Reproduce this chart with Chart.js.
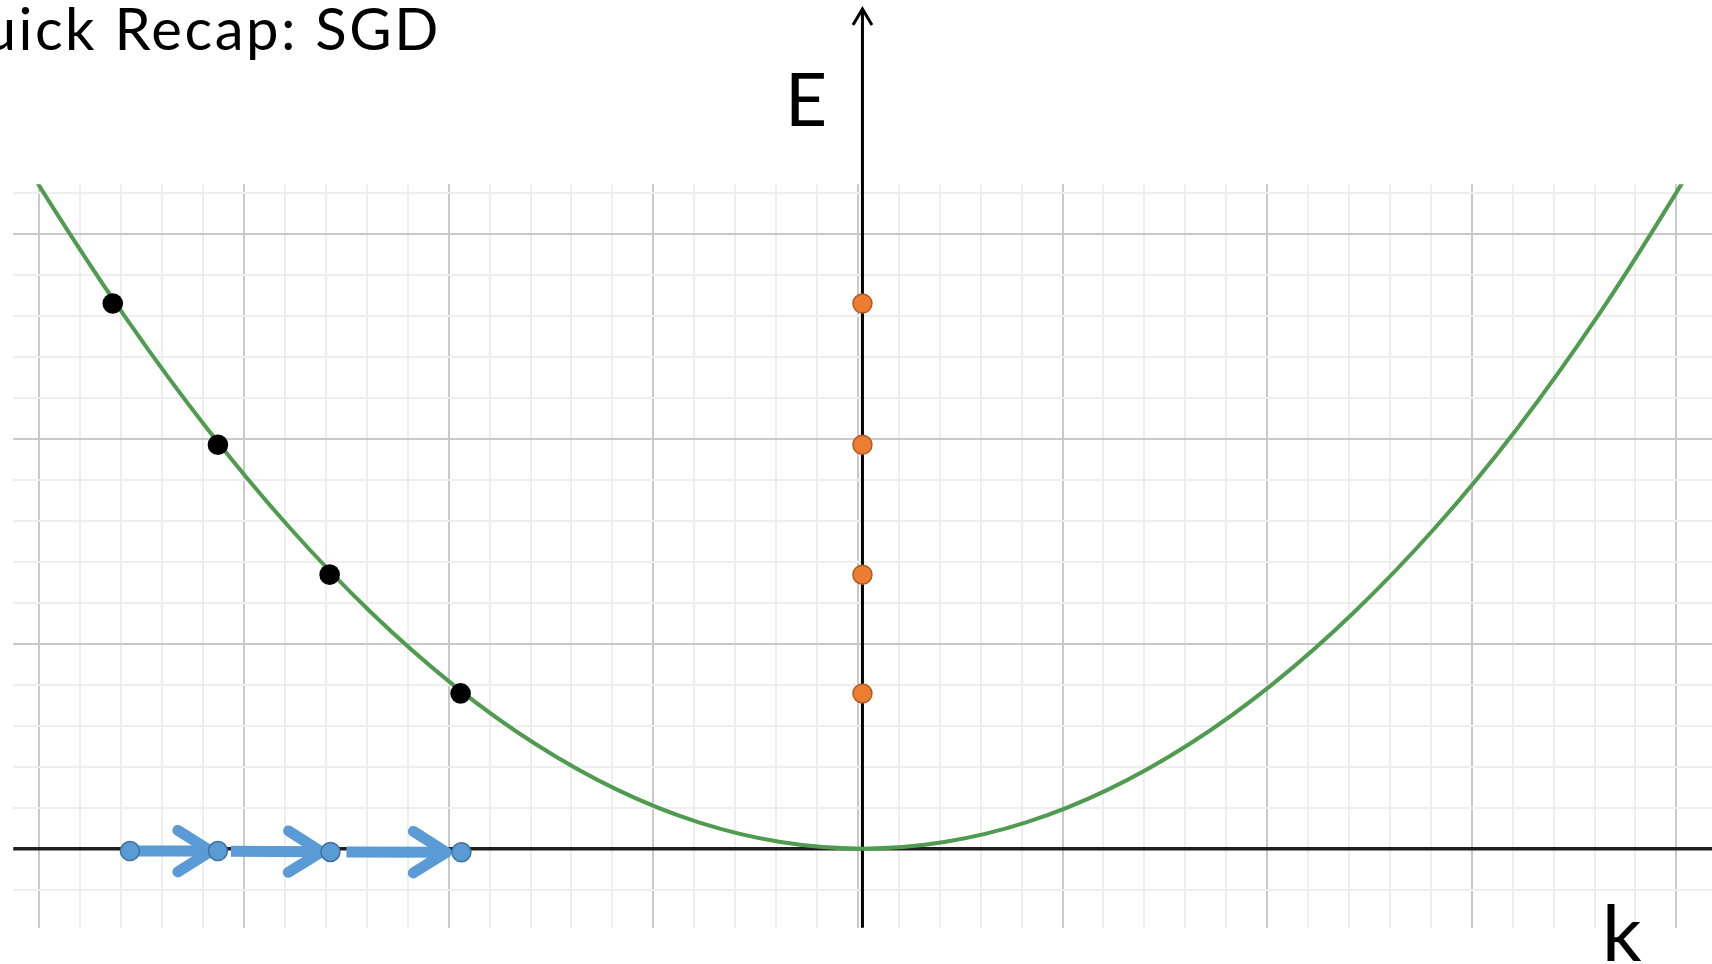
<!DOCTYPE html>
<html>
<head>
<meta charset="utf-8">
<title>Quick Recap: SGD</title>
<script src="https://cdn.jsdelivr.net/npm/chart.js@4.4.0/dist/chart.umd.min.js"></script>
<style>
  body { margin: 0; width: 1712px; height: 964px; overflow: hidden; background: #fff; position: relative; font-family: Lato, "Open Sans", sans-serif; }
  #myChart { position: absolute; left: 0; top: 0; }
  .texto { position: absolute; line-height: 1; white-space: nowrap; color: #000; }
  #titulo { right: 1271.2px; top: -1.5px; font-size: 58px; font-weight: 400; letter-spacing: 2.5px; text-align: right; }
  #labelE { left: 785px; top: 62px; font-size: 73px; }
  #labelK { left: 1602px; top: 892px; font-size: 78px; }
</style>
</head>
<body>
<canvas id="myChart" width="1712" height="964"></canvas>
<div id="titulo" class="texto">Quick Recap: SGD</div>
<div id="labelE" class="texto">E</div>
<div id="labelK" class="texto">k</div>
<script>
//Curva E(k)
const curveK = [-21, -20, -18, -16, -14, -12, -10, -8, -6, -4, -2, 0, 2, 4, 6, 8, 10, 12, 14, 16, 18, 20, 21];
const curveE = [17.64, 16.0, 12.96, 10.24, 7.84, 5.76, 4.0, 2.56, 1.44, 0.64, 0.16, 0, 0.16, 0.64, 1.44, 2.56, 4.0, 5.76, 7.84, 10.26, 13.05, 16.2, 17.9];
//Puntos negros sobre la curva
const blackK = [-18.32, -15.75, -13.02, -9.82];
const blackE = [13.31, 9.86, 6.69, 3.79];
//Puntos naranjas sobre el eje E
const orangeK = [0, 0, 0, 0];
const orangeE = [13.31, 9.86, 6.69, 3.79];
//Puntos azules sobre el eje k
const blueK = [-17.90, -15.75, -13.00, -9.80];
const blueE = [-0.06, -0.06, -0.08, -0.09];
//Lineas de la cuadricula
const gridK = [-20, -19, -18, -17, -16, -15, -14, -13, -12, -11, -10, -9, -8, -7, -6, -5, -4, -3, -2, -1, 0,
               1, 2, 3, 4, 5, 6, 7, 8, 9, 10, 11, 12, 13, 14, 15, 16, 17, 18, 19, 20];
const gridE = [-1, 0, 1, 2, 3, 4, 5, 6, 7, 8, 9, 10, 11, 12, 13, 14, 15, 16];

const toPoints = (xs, ys) => xs.map((x, i) => ({ x: x, y: ys[i] }));

//Colores de la cuadricula: cada 5 lineas una mas oscura
const gridColor = (ctx) => (ctx.tick && ctx.tick.value % 5 === 0) ? '#c9c9c9' : '#eeeeee';

//Dibujo los ejes negros y las flechas azules antes de los puntos
const axesArrows = {
    id: 'axesArrows',
    beforeDatasetsDraw(chart) {
        const { ctx, chartArea, scales: { x, y } } = chart;
        const x0 = x.getPixelForValue(0);
        const y0 = y.getPixelForValue(0);
        ctx.save();
        //eje k
        ctx.strokeStyle = '#1e1e1e';
        ctx.lineWidth = 3.5;
        ctx.beginPath();
        ctx.moveTo(chartArea.left, y0);
        ctx.lineTo(chartArea.right, y0);
        ctx.stroke();
        //eje E con punta de flecha
        ctx.strokeStyle = '#000';
        ctx.lineWidth = 3;
        ctx.beginPath();
        ctx.moveTo(x0, chartArea.bottom);
        ctx.lineTo(x0, 10);
        ctx.stroke();
        ctx.beginPath();
        ctx.moveTo(x0 - 9.5, 25);
        ctx.lineTo(x0, 9);
        ctx.lineTo(x0 + 9.5, 25);
        ctx.stroke();
        //flechas entre puntos azules
        const startGap = [0, 13, 16];
        const tipGap = [7, 9, 15];
        const L = 39, c = Math.cos(0.56), s = Math.sin(0.56);
        ctx.strokeStyle = '#5B9BD5';
        ctx.lineWidth = 11;
        for (let i = 0; i < blueK.length - 1; i++) {
            const ax = x.getPixelForValue(blueK[i]), ay = y.getPixelForValue(blueE[i]);
            const bx = x.getPixelForValue(blueK[i + 1]), by = y.getPixelForValue(blueE[i + 1]);
            const len = Math.hypot(bx - ax, by - ay);
            const dx = (bx - ax) / len, dy = (by - ay) / len;
            const sx = ax + dx * startGap[i], sy = ay + dy * startGap[i];
            const tx = bx - dx * tipGap[i], ty = by - dy * tipGap[i];
            ctx.lineCap = 'butt';
            ctx.beginPath();
            ctx.moveTo(sx, sy);
            ctx.lineTo(tx - dx * 4, ty - dy * 4);
            ctx.stroke();
            ctx.lineCap = 'round';
            ctx.lineJoin = 'round';
            ctx.beginPath();
            ctx.moveTo(tx - L * (c * dx - s * dy), ty - L * (c * dy + s * dx));
            ctx.lineTo(tx, ty);
            ctx.lineTo(tx - L * (c * dx + s * dy), ty - L * (c * dy - s * dx));
            ctx.stroke();
        }
        ctx.restore();
    }
};

const data = {
    datasets: [
        {
            label: 'negros',
            data: toPoints(blackK, blackE),
            showLine: false,
            pointRadius: 10.3,
            pointBackgroundColor: '#000',
            pointBorderWidth: 0
        },
        {
            label: 'naranjas',
            data: toPoints(orangeK, orangeE),
            showLine: false,
            pointRadius: 9.5,
            pointBackgroundColor: '#ED7D31',
            pointBorderColor: '#AE5A21',
            pointBorderWidth: 1.5
        },
        {
            label: 'azules',
            data: toPoints(blueK, blueE),
            showLine: false,
            pointRadius: 9.5,
            pointBackgroundColor: '#5B9BD5',
            pointBorderColor: '#41719C',
            pointBorderWidth: 1.5
        },
        {
            label: 'E(k)',
            data: toPoints(curveK, curveE),
            showLine: true,
            borderColor: '#4f9b4f',
            borderWidth: 4,
            pointRadius: 0,
            cubicInterpolationMode: 'monotone'
        }
    ]
};

const config = {
    type: 'scatter',
    data,
    options: {
        responsive: false,
        animation: false,
        events: [],
        layout: { autoPadding: false, padding: { left: 13.3, top: 184.3, right: 0, bottom: 36.3 } },
        plugins: { legend: { display: false }, tooltip: { enabled: false } },
        scales: {
            x: { type: 'linear', display: false, min: -20.75, max: 20.76 },
            gx: {
                type: 'linear', position: 'bottom', min: -20.64, max: 20.87,
                afterBuildTicks: (axis) => { axis.ticks = gridK.map(v => ({ value: v })); },
                ticks: { display: false },
                border: { display: false },
                grid: { drawTicks: false, color: gridColor, lineWidth: 2 }
            },
            y: {
                type: 'linear', position: 'left', min: -1.93, max: 16.22,
                afterBuildTicks: (axis) => { axis.ticks = gridE.map(v => ({ value: v })); },
                ticks: { display: false },
                border: { display: false },
                grid: { drawTicks: false, color: gridColor, lineWidth: 2 }
            }
        }
    },
    plugins: [axesArrows]
};

new Chart(document.getElementById('myChart'), config);
</script>
</body>
</html>
